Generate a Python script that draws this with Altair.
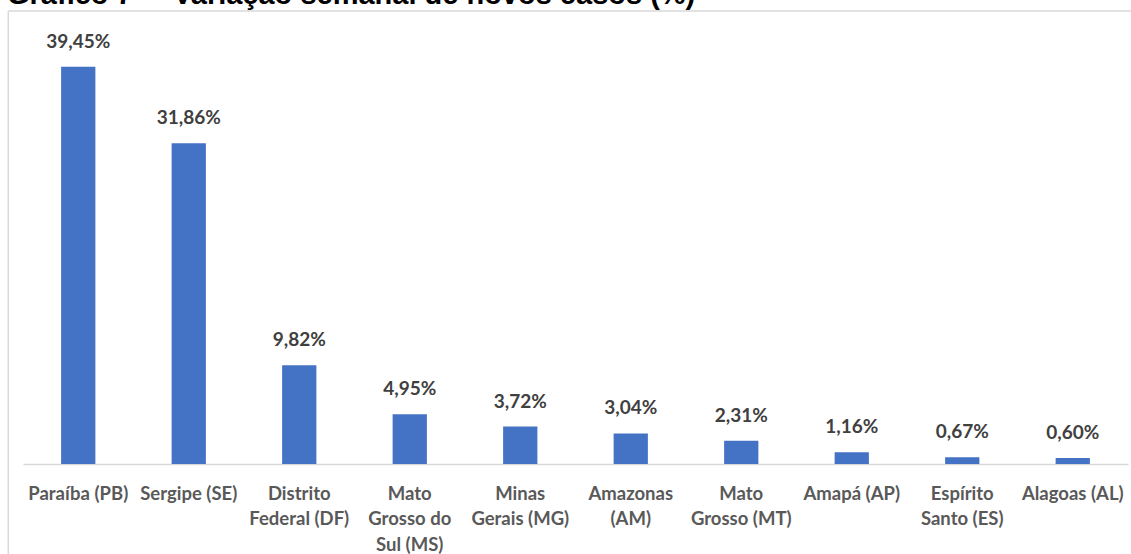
import altair as alt
import pandas as pd

# Weekly change in new cases by state (%)
estados = [
    "Paraíba (PB)", "Sergipe (SE)", "Distrito Federal (DF)",
    "Mato Grosso do Sul (MS)", "Minas Gerais (MG)", "Amazonas (AM)",
    "Mato Grosso (MT)", "Amapá (AP)", "Espírito Santo (ES)", "Alagoas (AL)",
]
# how each category label wraps under the axis
rotulos = [
    ["Paraíba (PB)"], ["Sergipe (SE)"], ["Distrito", "Federal (DF)"],
    ["Mato", "Grosso do", "Sul (MS)"], ["Minas", "Gerais (MG)"],
    ["Amazonas", "(AM)"], ["Mato", "Grosso (MT)"], ["Amapá (AP)"],
    ["Espírito", "Santo (ES)"], ["Alagoas (AL)"],
]
variacao = [39.45, 31.86, 9.82, 4.95, 3.72, 3.04, 2.31, 1.16, 0.67, 0.60]

titulo = "Gráfico 7 \u2013 \u00a0Variação semanal de novos casos (%)"

df = pd.DataFrame({
    "estado": estados,
    "rotulo": ["\n".join(r) for r in rotulos],
    "valor": variacao,
})

ordem = ["\n".join(r) for r in rotulos]

W, H = 1105, 453
PAD_L, PAD_T, PAD_R, PAD_B = 23, 11, 3, 90

base = alt.Chart(df).encode(
    x=alt.X(
        "rotulo:N",
        sort=ordem,
        title=None,
        scale=alt.Scale(paddingInner=0.69, paddingOuter=0.345),
        axis=alt.Axis(
            labelExpr="split(datum.label, '\\n')",
            labelAngle=0,
            labelFont="Lato",
            labelFontWeight="bold",
            labelFontSize=18.5,
            labelColor="#595959",
            labelLineHeight=25.5,
            labelBaseline="alphabetic",
            labelPadding=35,
            ticks=False,
            tickSize=0,
            domainColor="#d9d9d9",
            domainWidth=1.5,
            grid=False,
        ),
    ),
    y=alt.Y("valor:Q", scale=alt.Scale(domain=[0, 45]), axis=None),
)

barras = base.mark_bar(color="#4472C4")

valores = base.transform_calculate(
    texto="replace(format(datum.valor, '.2f'), '.', ',') + '%'"
).mark_text(
    font="Lato",
    fontWeight="bold",
    fontSize=19,
    color="#404040",
    baseline="alphabetic",
    dy=-19,
).encode(text="texto:N")

um = pd.DataFrame({"k": [0]})

borda_esq = alt.Chart(um).mark_rule(color="#d9d9d9", strokeWidth=1.5).encode(
    x=alt.value(8.3 - PAD_L), y=alt.value(0), y2=alt.value(H + PAD_B + 10)
)
borda_topo = alt.Chart(um).mark_rule(color="#d9d9d9", strokeWidth=1.5).encode(
    x=alt.value(8.3 - PAD_L), x2=alt.value(W + PAD_R + 10), y=alt.value(0)
)

cabecalho = alt.Chart(um).mark_text(
    text=titulo,
    font="Liberation Sans",
    fontWeight="bold",
    fontSize=29,
    color="#000000",
    align="left",
    baseline="alphabetic",
).encode(x=alt.value(7 - PAD_L), y=alt.value(4 - PAD_T))

chart = (
    alt.layer(borda_esq, borda_topo, barras, valores, cabecalho)
    .properties(
        width=W,
        height=H,
        autosize=alt.AutoSizeParams(type="none"),
        padding={"left": PAD_L, "top": PAD_T, "right": PAD_R, "bottom": PAD_B},
        background="white",
    )
    .configure_view(stroke=None)
)

chart.save("out.html", embed_options={"renderer": "svg", "actions": False})
